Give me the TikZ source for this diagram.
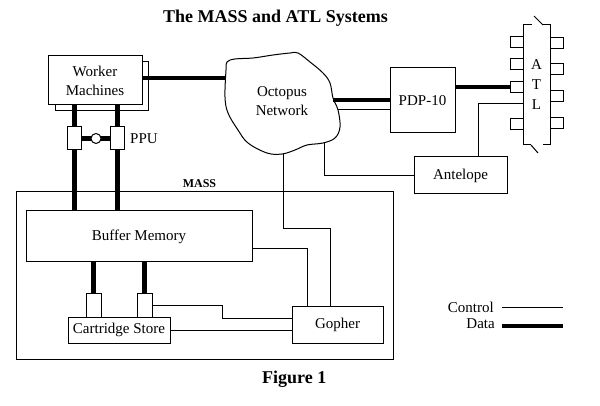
\documentclass[tikz,border=0pt]{standalone}
\usepackage{fontspec}
\setmainfont{Liberation Serif}
\usepackage{tikz}
\usetikzlibrary{positioning, calc}
\definecolor{myink}{RGB}{0,0,0}
\tikzset{
  box/.style={rectangle, draw=myink, fill=white, line width=1pt,
    inner sep=0pt, outer sep=0pt, align=center,
    font=\fontsize{15}{19}\selectfont},
  port/.style={rectangle, draw=myink, fill=white, line width=1pt,
    inner sep=0pt, outer sep=0pt},
  txt/.style={inner sep=0pt, align=center, font=\fontsize{15}{19}\selectfont},
  hdr/.style={inner sep=0pt, font=\fontsize{18}{21}\selectfont\bfseries},
  ctrl/.style={line width=1pt, color=myink},
  data/.style={line width=4.5pt, color=myink}
}

\begin{document}
\begin{tikzpicture}[x=1pt, y=-1pt]
  \useasboundingbox (0,0) rectangle (600,406);
  \node[hdr, anchor=west] (ttl) at (163,18) {The MASS and ATL Systems};
  \node[hdr, anchor=west] (fig) at (262,379) {Figure 1};
  % MASS enclosure
  \node[port, fill=none, minimum width=377, minimum height=167] (mass) at (204.5,275.5) {};
  \node[inner sep=0pt, font=\fontsize{12}{14}\selectfont\bfseries] (masslbl) at (199.5,184) {MASS};
  % Worker machines (two stacked boxes)
  \node[box, minimum width=93, minimum height=49] (wback) at (101.5,86.5) {};
  \node[box, minimum width=94, minimum height=49] (work) at (95,80.5) {Worker\\Machines};
  % Octopus network cloud
  \draw[ctrl] plot[smooth cycle, tension=0.6] coordinates {
    (227,62) (235,59) (253,58) (273,55) (290,53) (298,53) (310,62)
    (323,73) (330,83) (333,98) (338,110) (340,127) (335,138) (323,143)
    (307,145) (295,150) (282,154) (267,153) (248,143) (238,130)
    (228,113) (225,97) (226,70)};
  \node[txt] (octo) at (282,101) {Octopus\\Network};
  \coordinate (oW) at (226,78);
  \coordinate (oE1) at (333,100);
  \coordinate (oE2) at (338,110);
  \coordinate (oS) at (283,154);
  \coordinate (oSE) at (324,143);
  % Boxes
  \node[box, minimum width=226, minimum height=51] (buf) at (139,236.5) {Buffer Memory};
  \node[box, minimum width=102, minimum height=26] (cart) at (119,330) {Cartridge Store};
  \node[box, minimum width=91, minimum height=37] (gopher) at (337.5,324.5) {Gopher};
  \node[box, minimum width=65, minimum height=65] (pdp) at (422.5,100.5) {PDP-10};
  \node[box, minimum width=93, minimum height=37] (ante) at (460.5,175.5) {Antelope};
  % ATL
  \node[txt, font=\fontsize{15}{20}\selectfont] (atl) at (536.5,85) {A\\T\\L};
  \draw[ctrl] (532,25) -| (523,145) -- (531,145);
  \draw[ctrl] (543,25) -| (550,145) -- (543,145);
  \draw[ctrl] (534,16) -- (543,25);
  \draw[ctrl] (531,145) -- (538,153);
  \foreach \y [count=\i] in {42,64,87,124}
    \node[port, minimum width=13, minimum height=11] (aL\i) at (516.5,\y) {};
  \foreach \y [count=\i] in {43.5,69.5,96.5,123.5}
    \node[port, minimum width=13, minimum height=11] (aR\i) at (556.5,\y) {};
  \coordinate (atlin) at (523,104);
  % Data paths
  \draw[data] ([yshift=2.5pt]work.east) -- (oW);
  \draw[data] (oE1) -- (oE1 -| pdp.west);
  \draw[data] (pdp.east |- aL3) -- (aL3.west);
  \draw[data] (74.5,0 |- work.south) -- (74.5,0 |- buf.north);
  \draw[data] (117.5,0 |- work.south) -- (117.5,0 |- buf.north);
  \node[port, minimum width=14, minimum height=23] (ppuL) at (74.5,138.5) {};
  \node[port, minimum width=14, minimum height=23] (ppuR) at (117.5,138.5) {};
  \draw[data] (ppuL.east) -- (ppuR.west);
  \node[port, circle, minimum size=10] (ppuc) at (96,138.5) {};
  \node[txt, anchor=west] (ppu) at (130,138.5) {PPU};
  \node[port, minimum width=15, minimum height=23] (p1) at (93.5,305.5) {};
  \node[port, minimum width=15, minimum height=23] (p2) at (144.5,305.5) {};
  \draw[data] (p1 |- buf.south) -- (p1.north);
  \draw[data] (p2 |- buf.south) -- (p2.north);
  % Control paths
  \draw[ctrl] (oE2) -- (oE2 -| pdp.west);
  \draw[ctrl] (oSE) |- (ante.west);
  \draw[ctrl] (atlin) -| ([xshift=17.5pt]ante.north);
  \draw[ctrl] (oS) -- ++(0,75) -| ([xshift=-7.5pt]gopher.north);
  \draw[ctrl] ([yshift=-12.5pt]buf.east) -| ([xshift=-30.5pt]gopher.north);
  \draw[ctrl] (p2.east) -- ++(70,0) |- ([yshift=6.5pt]gopher.west);
  \draw[ctrl] (cart.east) -- (cart.east -| gopher.west);
  % Legend
  \node[txt, anchor=east] (lgc) at (494,307) {Control};
  \node[txt, anchor=east] (lgd) at (495,324) {Data};
  \draw[ctrl] ([xshift=8pt]lgc.east) -- ++(61,0);
  \draw[data] ([xshift=7pt,yshift=-2pt]lgd.east) -- ++(61,0);
\end{tikzpicture}
\end{document}
